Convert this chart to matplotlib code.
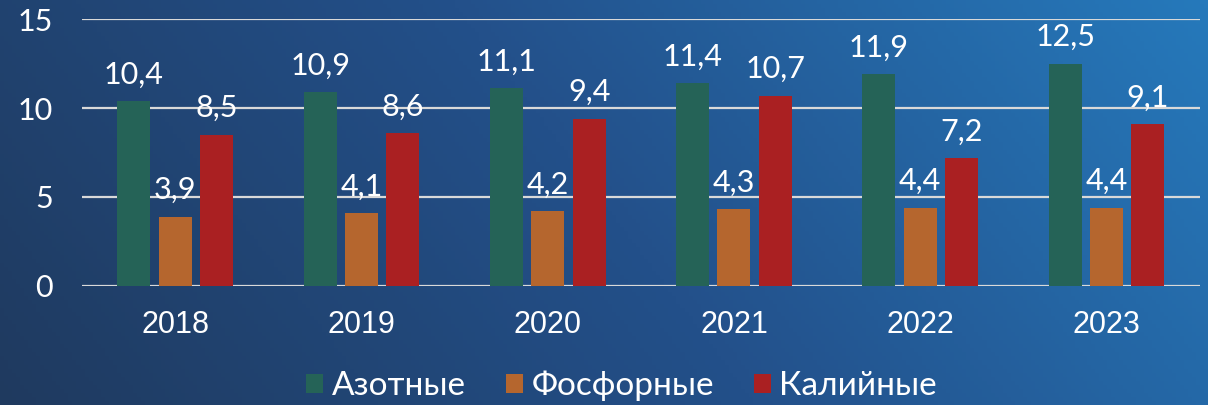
import numpy as np
import matplotlib.pyplot as plt
from matplotlib.colors import LinearSegmentedColormap

years = ['2018', '2019', '2020', '2021', '2022', '2023']
azot = [10.4, 10.9, 11.1, 11.4, 11.9, 12.5]
fosfor = [3.9, 4.1, 4.2, 4.3, 4.4, 4.4]
kaliy = [8.5, 8.6, 9.4, 10.7, 7.2, 9.1]
series_names = ['Азотные', 'Фосфорные', 'Калийные']
colors = ['#256357', '#b5662e', '#aa2022']

plt.rcParams['font.family'] = ['Lato', 'DejaVu Sans']

fig = plt.figure(figsize=(12.08, 4.05), dpi=100)

# gradient background
bg = fig.add_axes([0, 0, 1, 1], zorder=-10)
xx, yy = np.meshgrid(np.linspace(0, 1, 300), np.linspace(0, 1, 100))
t = 0.8 * xx + 0.2 * yy
cmap = LinearSegmentedColormap.from_list('bg', ['#1f3a5f', '#23508a', '#2679bb'])
bg.imshow(t, cmap=cmap, aspect='auto', origin='lower', extent=[0, 1, 0, 1])
bg.axis('off')

ax = fig.add_axes([0.068, 0.294, 0.925, 0.659])
ax.patch.set_alpha(0)

x = np.arange(len(years))
w = 0.177
step = 0.222
for i, (vals, c, name) in enumerate(zip([azot, fosfor, kaliy], colors, series_names)):
    pos = x + (i - 1) * step
    ax.bar(pos, vals, width=w, color=c, label=name, zorder=3)
    for p, v in zip(pos, vals):
        ax.annotate(f'{v:.1f}'.replace('.', ','), (p, v), xytext=(0, 9),
                    textcoords='offset points', ha='center', va='bottom',
                    color='white', fontsize=22)

ax.set_xlim(-0.5, len(years) - 0.5)
ax.set_ylim(0, 15)
ax.set_yticks([0, 5, 10, 15])
ax.set_xticks(x)
ax.set_xticklabels(years, family='Liberation Sans', fontsize=22)
ax.yaxis.grid(True, color='#d9d9d9', lw=1.6, zorder=1)
ax.set_axisbelow(True)
for s in ax.spines.values():
    s.set_visible(False)
ax.tick_params(axis='both', length=0, colors='white')
ax.tick_params(axis='y', pad=21, labelsize=22)
ax.tick_params(axis='x', pad=17)

leg = fig.legend(loc='center', bbox_to_anchor=(0.5145, 0.047), ncol=3, frameon=False,
                 prop={'size': 24}, handlelength=0.52, handleheight=0.52,
                 handletextpad=0.25, columnspacing=1.2, borderpad=0, borderaxespad=0)
for txt in leg.get_texts():
    txt.set_color('white')

fig.savefig('out.png', dpi=100)
